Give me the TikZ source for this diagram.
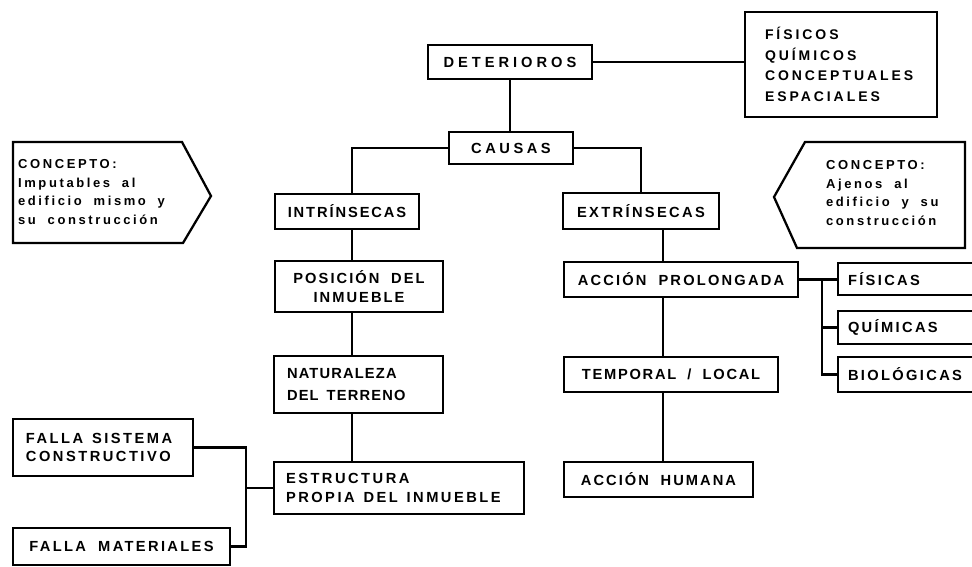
\documentclass[tikz,border=0pt]{standalone}
\usepackage{fontspec}
\setmainfont[WordSpace=1.9]{Liberation Sans}
\begin{document}
\begin{tikzpicture}[x=0.75pt,y=-0.75pt,
  line width=1.7pt,
  sz/.style 2 args={minimum width=#1*0.75pt, minimum height=#2*0.75pt},
  lt/.style={text width=#1*0.75pt, align=left},
  ls/.style={font=\bfseries\fontsize{11}{14}\selectfont\addfontfeatures{LetterSpace=#1}},
  box/.style={draw, rectangle, inner sep=0pt, align=center, ls=16},
  ctext/.style={inner sep=0pt, align=left, font=\bfseries\fontsize{9.75}{14.2}\selectfont\addfontfeatures{LetterSpace=20}}
]
\fill[white] (0,0) rectangle (972,567);
\useasboundingbox (0,0) rectangle (972,567);

% top
\node[box, sz={164}{34}, ls=27] (det) at (510,62) {DETERIOROS};
\node[box, sz={192}{105}, lt=152,
  font=\bfseries\fontsize{10.5}{15.5}\selectfont\addfontfeature{LetterSpace=21}] (fis) at (841,64.5)
  {FÍSICOS\\QUÍMICOS\\CONCEPTUALES\\ESPACIALES};
\node[box, sz={124}{32}, ls=24] (causas) at (511,148) {CAUSAS};

% concept pentagons
\draw (13,142) -- (182,142) -- (211,196) -- (183,243) -- (13,243) -- cycle;
\node[ctext, anchor=west] (cl) at (17,192) {\spaceskip=.5em\relax CONCEPTO:\\Imputables al\\edificio mismo y\\su construcción};
\draw (805,142) -- (965,142) -- (965,248) -- (797,248) -- (774,197) -- cycle;
\node[ctext, anchor=west] (cr) at (825,193) {\spaceskip=.5em\relax CONCEPTO:\\Ajenos al\\edificio y su\\construcción};

% left column
\node[box, sz={144}{35}, ls=13] (int) at (347,211.5) {INTRÍNSECAS};
\node[box, sz={168}{51}, ls=14] (pos) at (359,286.5) {POSICIÓN DEL\\INMUEBLE};
\node[box, sz={169}{57}, lt=143, font=\bfseries\fontsize{11}{16}\selectfont\addfontfeatures{LetterSpace=8}] (nat) at (358.5,384.5) {\spaceskip=.55em\relax NATURALEZA\\\mbox{DEL TERRENO}};
\node[box, sz={250}{52}, lt=226, ls=17] (est) at (399,488) {\spaceskip=.6em\relax ESTRUCTURA\\\mbox{PROPIA DEL INMUEBLE}};
\node[box, sz={180}{57}, lt=154, ls=17] (fsc) at (103,447.5) {\spaceskip=.6em\relax\mbox{FALLA SISTEMA}\\CONSTRUCTIVO};
\node[box, sz={217}{37}, ls=16] (fm) at (121.5,546.5) {FALLA MATERIALES};

% right column
\node[box, sz={156}{36}] (ext) at (641,211) {EXTRÍNSECAS};
\node[box, sz={234}{35}, ls=15] (ap) at (681,279.5) {ACCIÓN PROLONGADA};
\node[box, sz={214}{35}, ls=12] (tl) at (671,374.5) {TEMPORAL / LOCAL};
\node[box, sz={189}{35}, ls=14] (ah) at (658.5,479.5) {ACCIÓN HUMANA};
\node[box, sz={152}{32}, lt=132] (fisc) at (914,279) {FÍSICAS};
\node[box, sz={152}{33}, lt=132] (quim) at (914,327.5) {QUÍMICAS};
\node[box, sz={152}{35}, lt=132] (bio) at (914,374.5) {BIOLÓGICAS};

% spines
\coordinate (lsp) at (352,0);
\coordinate (rsp) at (663,0);
\coordinate (fk) at (246,488);
\coordinate (bk) at (822,0);

% connectors
\draw (det.east) -- (det.east -| fis.west);
\draw (det.south) -- (det.south |- causas.north);
\draw (causas.west) -| (int.north -| lsp);
\draw (causas.east) -| (ext.north);
\draw (int.south -| lsp) -- (pos.north -| lsp);
\draw (pos.south -| lsp) -- (nat.north -| lsp);
\draw (nat.south -| lsp) -- (est.north -| lsp);
\draw (est.west) -- (est.west -| fk);
\draw (fsc.east) -| (fk) |- (fm.east);
\draw (ext.south -| rsp) -- (ap.north -| rsp);
\draw (ap.south -| rsp) -- (tl.north -| rsp);
\draw (tl.south -| rsp) -- (ah.north -| rsp);
\draw (ap.east) -- (ap.east -| fisc.west);
\draw (ap.east -| bk) |- (quim.west);
\draw (ap.east -| bk) |- (bio.west);
\end{tikzpicture}
\end{document}
